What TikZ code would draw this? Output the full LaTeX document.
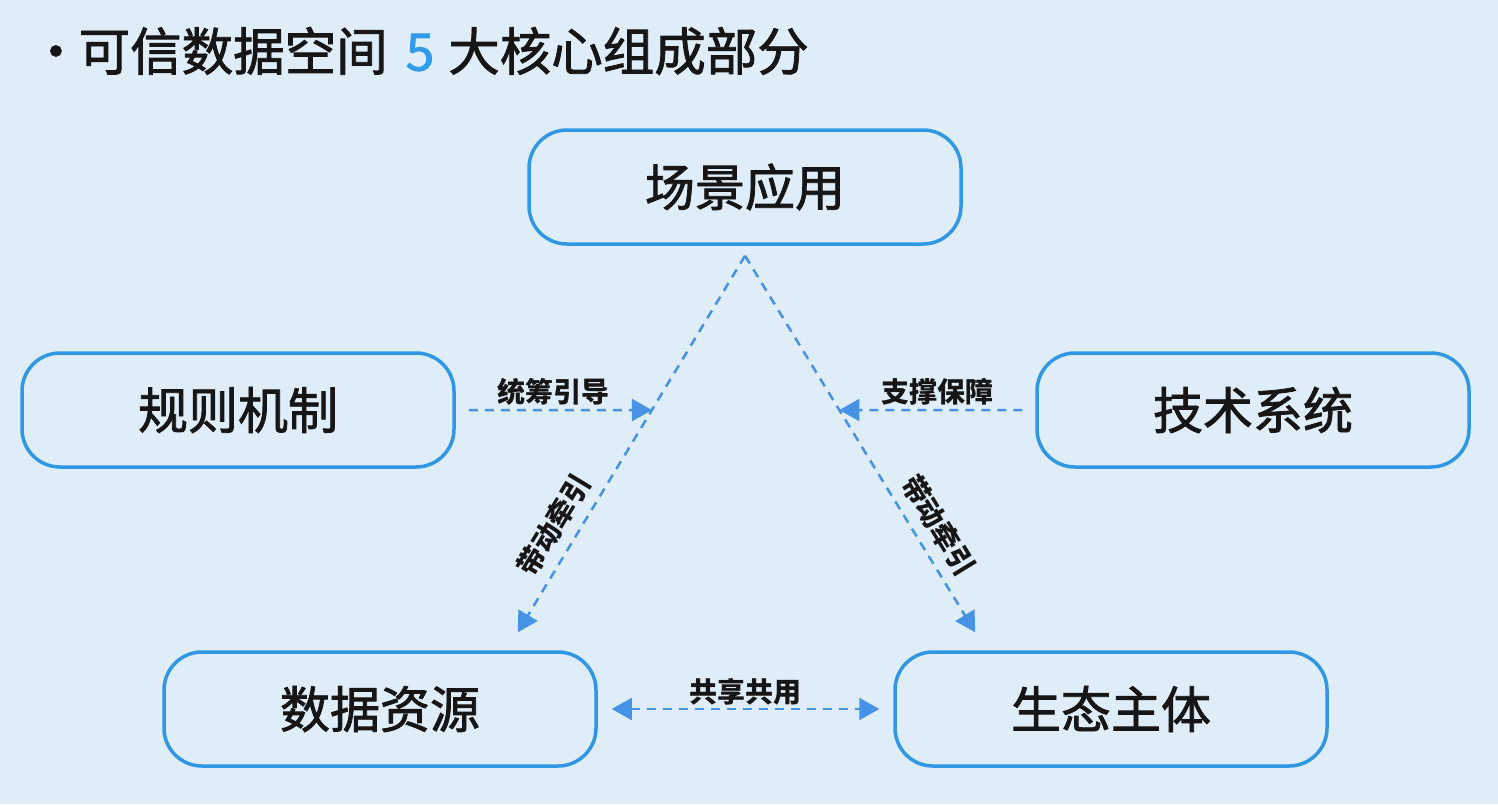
\documentclass[tikz,border=0pt]{standalone}
\usepackage{fontspec}
\setmainfont{Noto Sans CJK SC}
\newfontfamily\medio[FakeBold=1.6]{Noto Sans CJK SC}
\usetikzlibrary{arrows.meta, positioning, calc}
\definecolor{fondo}{HTML}{DFEDF8}
\definecolor{borde}{HTML}{2F97E3}
\definecolor{flecha}{HTML}{4592E6}
\definecolor{numero}{HTML}{2F9BEA}
\definecolor{texto}{HTML}{161616}

\begin{document}
\begin{tikzpicture}[x=1pt, y=-1pt,
        >={Triangle[length=20pt, width=22pt]},
        box/.style={draw=borde, line width=3.5pt, fill=fondo, rounded corners=38pt,
            minimum width=432pt, minimum height=114pt, text=texto,
            font=\medio\fontsize{50}{60}\selectfont},
        rel/.style={->, flecha, line width=2.5pt, dash pattern=on 9pt off 7pt},
        lbl/.style={text=texto, inner sep=3pt, font=\bfseries\fontsize{28}{32}\selectfont}
    ]
        \fill[fondo] (0,0) rectangle (1498,804);
        \useasboundingbox (0,0) rectangle (1498,804);
        \node[anchor=west, inner sep=0pt, text=texto, font=\medio\fontsize{51.5}{60}\selectfont] (titulo) at (30,51)
            {·\hspace{-3pt}可信数据空间\hspace{18pt}\textcolor{numero}{5}\hspace{14pt}大核心组成部分};
        \node[box] (escena) at (745,187) {场景应用};
        \node[box] (regla) at (238,410) {规则机制};
        \node[box] (tecnica) at (1253,410) {技术系统};
        \node[box] (datos) at (380,709) {数据资源};
        \node[box] (ecosis) at (1111,709) {生态主体};
        % vertice y puntas de las diagonales
        \coordinate (apice) at ([yshift=-10pt]escena.south);
        \coordinate (puntaI) at ([xshift=-80pt, yshift=18pt]datos.north east);
        \coordinate (puntaD) at ([xshift=82pt, yshift=18pt]ecosis.north west);
        \coordinate (choqueI) at (intersection of apice--puntaI and regla.east--tecnica.west);
        \coordinate (choqueD) at (intersection of apice--puntaD and regla.east--tecnica.west);
        \draw[rel] (apice) -- (puntaI) node[lbl, pos=0.75, sloped, above=7pt] (lblI) {带动牵引};
        \draw[rel] (apice) -- (puntaD) node[lbl, pos=0.75, sloped, above=7pt] (lblD) {带动牵引};
        \draw[rel, shorten <=13pt] (regla) -- (choqueI) node[lbl, midway, above] (lblR) {统筹引导};
        \draw[rel, shorten <=13pt] (tecnica) -- (choqueD) node[lbl, midway, above] (lblT) {支撑保障};
        \draw[rel, <->, line width=2pt, shorten <=14pt, shorten >=14pt] (datos) -- (ecosis)
            node[lbl, midway, above] (lblC) {共享共用};
    \end{tikzpicture}
\end{document}
